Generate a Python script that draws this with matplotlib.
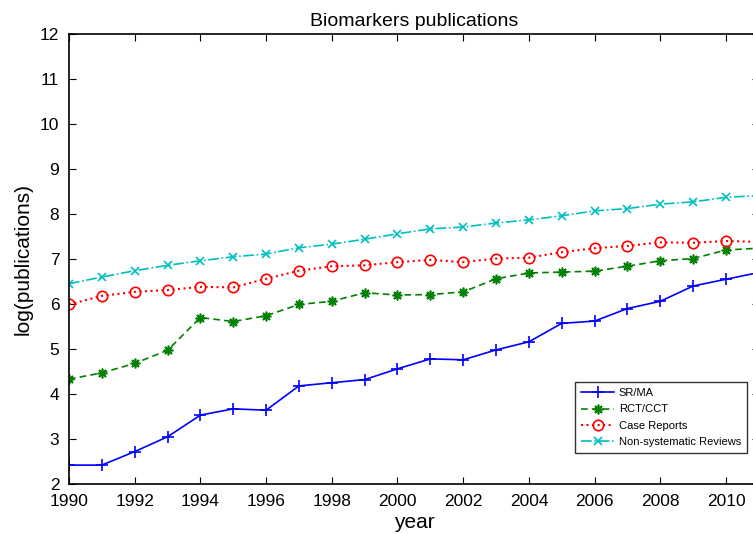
import matplotlib
matplotlib.use("Agg")
import matplotlib.pyplot as plt

plt.rcParams['font.family'] = ['Liberation Sans', 'DejaVu Sans']

years = list(range(1990, 2012))
sr_ma = [2.42, 2.42, 2.72, 3.05, 3.53, 3.67, 3.64, 4.18, 4.25, 4.32, 4.56,
         4.78, 4.76, 4.98, 5.16, 5.57, 5.62, 5.90, 6.06, 6.40, 6.55, 6.70]
rct_cct = [4.33, 4.47, 4.68, 4.97, 5.70, 5.61, 5.74, 5.99, 6.06, 6.25, 6.20,
           6.21, 6.27, 6.56, 6.69, 6.71, 6.73, 6.84, 6.96, 7.01, 7.20, 7.24]
case_reports = [5.99, 6.18, 6.27, 6.31, 6.38, 6.37, 6.56, 6.74, 6.84, 6.86, 6.93,
                6.98, 6.93, 7.01, 7.03, 7.15, 7.24, 7.29, 7.37, 7.36, 7.40, 7.38]
non_sys = [6.45, 6.60, 6.74, 6.86, 6.96, 7.05, 7.11, 7.25, 7.33, 7.44, 7.56,
           7.67, 7.71, 7.80, 7.87, 7.96, 8.07, 8.12, 8.22, 8.27, 8.37, 8.41]
labels = ['SR/MA', 'RCT/CCT', 'Case Reports', 'Non-systematic Reviews']
xticks = list(range(1990, 2011, 2))
yticks = list(range(2, 13))

fig = plt.figure(figsize=(7.53, 5.34), dpi=100)
ax = fig.add_axes([69/753, 50/534, 21*32.85/753, 450/534])

ax.plot(years, sr_ma, color='#0000ff', linestyle='-', marker='+', markersize=9,
        markeredgewidth=1.2, linewidth=1.2, label=labels[0])
ax.plot(years, rct_cct, color='#008000', linestyle='--', marker=(8, 2, 0), markersize=7,
        markeredgewidth=1.2, linewidth=1.2, label=labels[1], dashes=(4, 2.5))
ax.plot(years, case_reports, color='#ff0000', linestyle=':', marker='o', markersize=7.5,
        markerfacecolor='none', markeredgewidth=1.2, linewidth=1.5, label=labels[2])
ax.plot(years, non_sys, color='#00bfbf', linestyle='-.', marker='x', markersize=6,
        markeredgewidth=1.2, linewidth=1.2, label=labels[3])

ax.set_xlim(1990, 2011)
ax.set_ylim(2, 12)
ax.set_xticks(xticks)
ax.set_yticks(yticks)
ax.tick_params(direction='in', top=True, right=True, labelsize=12.5, length=5, width=0.8)
ax.tick_params(axis='y', pad=7)
ax.tick_params(axis='x', pad=7)
for s in ax.spines.values():
    s.set_linewidth(1.2)

ax.set_title('Biomarkers publications', fontsize=14, pad=6)
ax.set_xlabel('year', fontsize=15, labelpad=3)
ax.set_ylabel('log(publications)', fontsize=15, labelpad=5)

leg = ax.legend(loc='lower right', bbox_to_anchor=(747/753, (534-453)/534),
                bbox_transform=fig.transFigure, fontsize=8, frameon=True,
                fancybox=False, edgecolor='black', handlelength=3.0,
                borderpad=0.55, labelspacing=0.56, handletextpad=0.4, borderaxespad=0)
leg.get_frame().set_linewidth(1.0)

fig.savefig('out.png', dpi=100)
